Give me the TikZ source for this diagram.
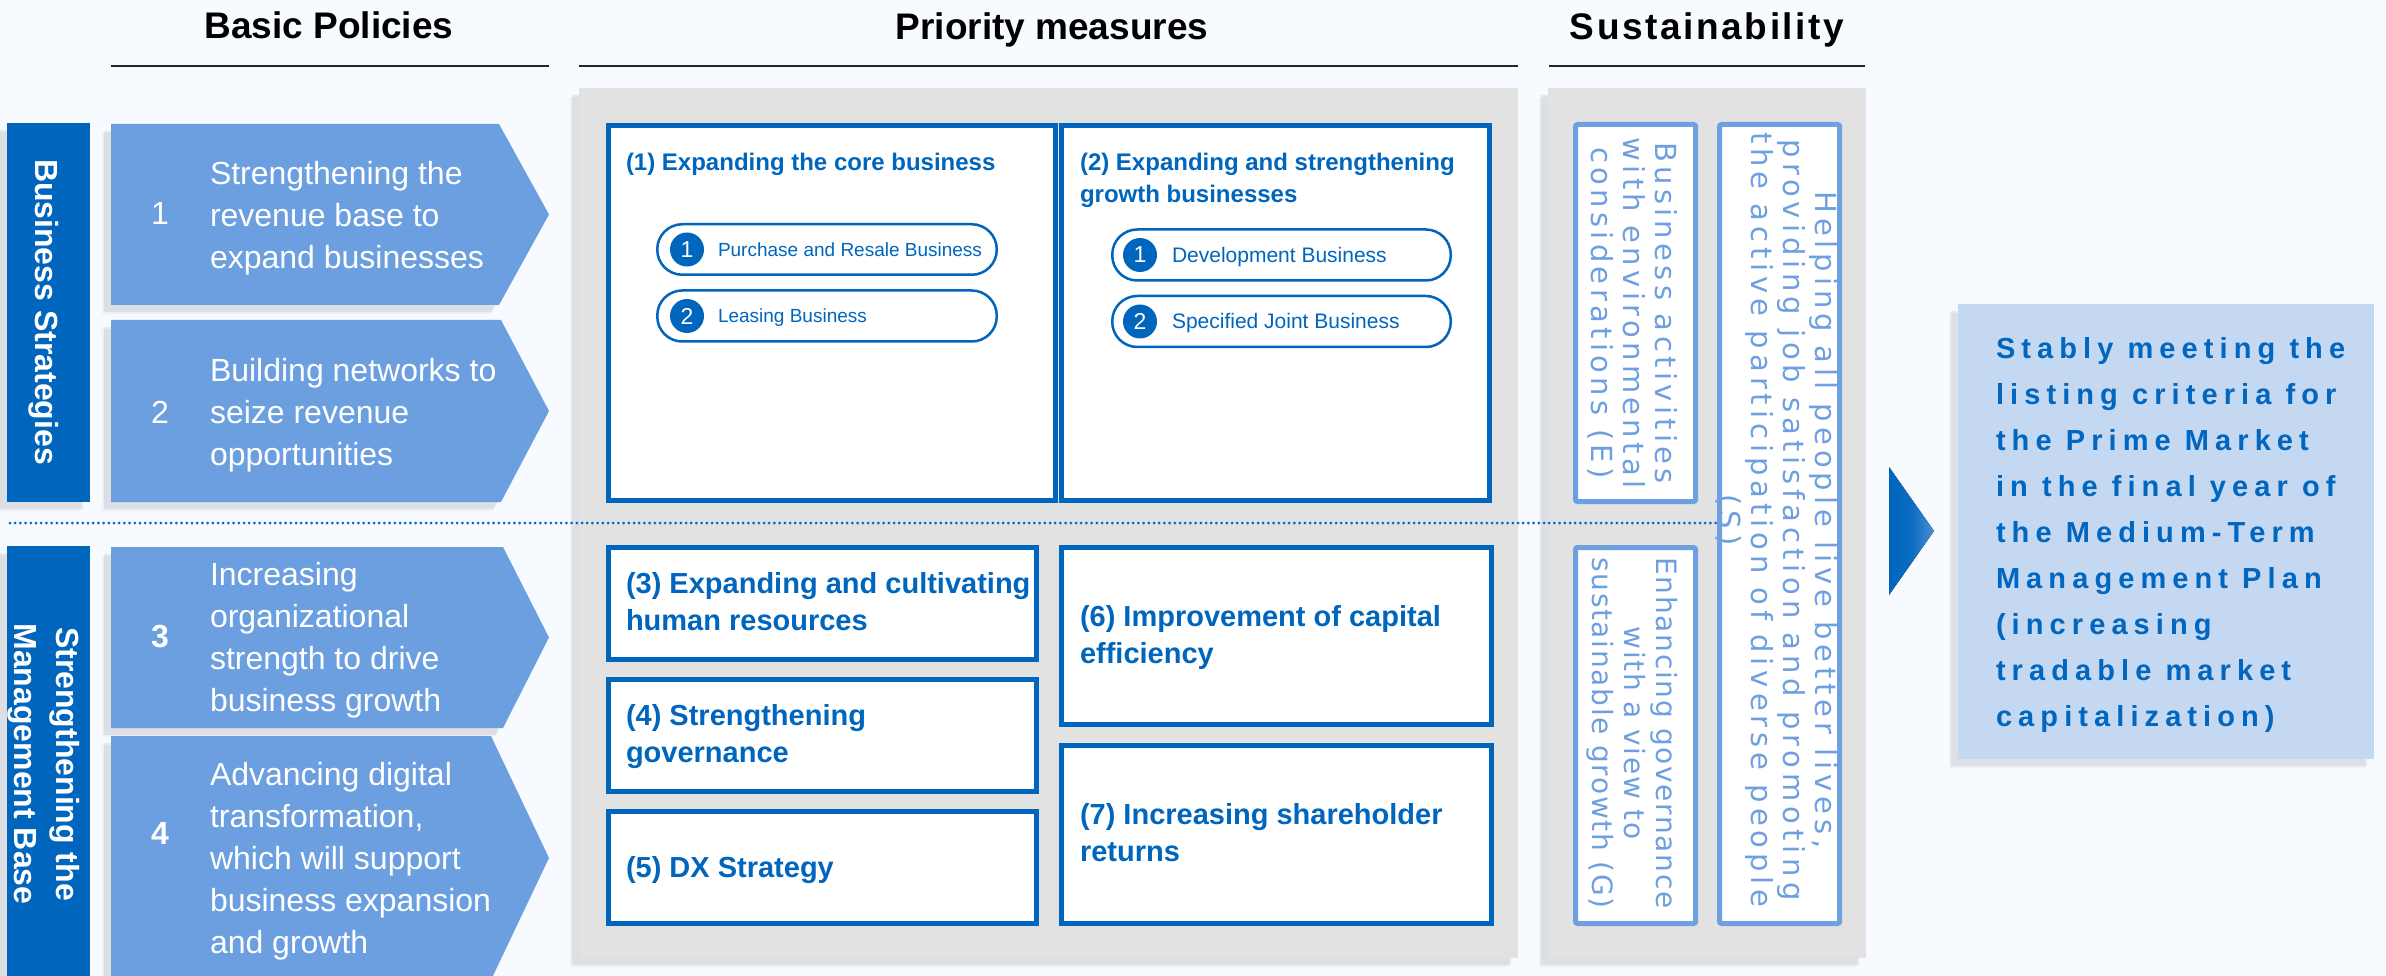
\documentclass[tikz,border=0pt]{standalone}
\usepackage{fontspec}
\setmainfont{Liberation Sans}
\newfontfamily\sustfontE[LetterSpace=15]{DejaVu Sans}
\newfontfamily\sustfontS[LetterSpace=17]{DejaVu Sans}
\newfontfamily\sustfontG[LetterSpace=6]{DejaVu Sans}
\newfontfamily\goalfont[LetterSpace=21]{Liberation Sans}
\newfontfamily\spacedhead[LetterSpace=7]{Liberation Sans}

\definecolor{deepblue}{RGB}{0,101,189}
\definecolor{arrowblue}{RGB}{108,159,224}
\definecolor{softblue}{RGB}{110,159,225}
\definecolor{panelgray}{RGB}{226,226,226}
\definecolor{paper}{RGB}{247,251,255}
\definecolor{goalfill}{RGB}{197,216,241}
\definecolor{goaltext}{RGB}{0,102,192}
\definecolor{tipblue}{RGB}{74,143,214}

\begin{document}
\begin{tikzpicture}[x=1pt,y=-1pt,
  every node/.style={inner sep=0pt,outer sep=0pt},
  head/.style={text=black,font=\bfseries\fontsize{37}{44}\selectfont},
  headrule/.style={draw=black!85,line width=2pt},
  shadenear/.style={fill=black,opacity=.07,shift={(-7,7)}},
  shadefar/.style={fill=black,opacity=.04,shift={(-9,9)}},
  panel/.style={fill=panelgray},
  sidebar/.style={fill=deepblue},
  sidetext/.style={text=white,rotate=-90,align=center,font=\bfseries\fontsize{32}{42}\selectfont},
  policy/.style={fill=arrowblue},
  policytext/.style={text=white,anchor=west,align=left,font=\fontsize{32}{42}\selectfont},
  policynum/.style={text=white,font=\fontsize{32}{42}\selectfont},
  measure/.style={draw=deepblue,line width=5pt,fill=white},
  measuretitle/.style={text=deepblue,anchor=west,align=left,font=\bfseries\fontsize{29}{37}\selectfont},
  smalltitle/.style={text=deepblue,anchor=west,align=left,font=\bfseries\fontsize{24}{32}\selectfont},
  pill/.style={draw=deepblue,line width=2.5pt,fill=white,rounded corners=25pt},
  numdot/.style={circle,fill=deepblue,minimum size=34pt,text=white,font=\fontsize{23}{23}\selectfont},
  pilltext/.style={text=deepblue,anchor=west},
  sustbox/.style={draw=softblue,line width=5pt,fill=white,rounded corners=2pt},
  susttext/.style={text=softblue,rotate=-90,align=center},
  goaltextstyle/.style={text=goaltext,anchor=west,align=left,font=\goalfont\bfseries\fontsize{29}{45.9}\selectfont}
]
\useasboundingbox (0,0) rectangle (2386,976);
\fill[paper] (0,0) rectangle (2386,976);

\begin{scope}
\clip (0,0) rectangle (2386,976);

% column headings and their rules
\node[head] (hdBasic) at (329,25) {Basic Policies};
\node[head] (hdPriority) at (1052,29.5) {Priority measures};
\node[head,font=\spacedhead\bfseries\fontsize{37}{44}\selectfont] (hdSust) at (1707,29.5) {Sustainability};
\draw[headrule] (111,66) -- (549,66);
\draw[headrule] (579,66) -- (1518,66);
\draw[headrule] (1549,66) -- (1865,66);

% soft shadows
\foreach \sty in {shadefar,shadenear}{
  \fill[\sty] (7,123) rectangle (90,502);
  \fill[\sty] (7,546) rectangle (90,990);
  \fill[\sty] (579,88) rectangle (1518,958);
  \fill[\sty] (1548,88) rectangle (1866,958);
  \fill[\sty] (1958,304) rectangle (2374,759);
  \foreach \t/\b/\n in {124/305/499,320/502/501,547/728/503,736/980/491}{
    \pgfmathsetmacro\m{(\t+\b)/2}
    \fill[\sty] (111,\t) -- (\n,\t) -- (549,\m) -- (\n,\b) -- (111,\b) -- cycle;
  }
}

% side bars
\fill[sidebar] (7,123) rectangle (90,502);
\fill[sidebar] (7,546) rectangle (90,990);
\node[sidetext] (sideBiz) at (44,312) {Business Strategies};
\node[sidetext] (sideMgmt) at (44,764) {Strengthening the\\Management Base};

% basic policy arrows
\foreach \t/\b/\n in {124/305/499,320/502/501,547/728/503,736/980/491}{
  \pgfmathsetmacro\m{(\t+\b)/2}
  \fill[policy] (111,\t) -- (\n,\t) -- (549,\m) -- (\n,\b) -- (111,\b) -- cycle;
}
\node[policynum] (num1) at (160,213) {1};
\node[policynum] (num2) at (160,412) {2};
\node[policynum,font=\bfseries\fontsize{32}{42}\selectfont] (num3) at (160,637) {3};
\node[policynum,font=\bfseries\fontsize{32}{42}\selectfont] (num4) at (160,833) {4};
\node[policytext] (pol1) at (210,218) {Strengthening the\\revenue base to\\expand businesses};
\node[policytext] (pol2) at (210,415) {Building networks to\\seize revenue\\opportunities};
\node[policytext] (pol3) at (210,640) {Increasing\\organizational\\strength to drive\\business growth};
\node[policytext] (pol4) at (210,861) {Advancing digital\\transformation,\\which will support\\business expansion\\and growth};

% grey panels
\fill[panel] (579,88) rectangle (1518,958);
\fill[panel] (1548,88) rectangle (1866,958);

% dotted divider between the two strategy groups
\coordinate (divL) at (10,523);
\coordinate (divR) at (1717,523);
\draw[deepblue,line width=3pt,line cap=round,dash pattern=on 0pt off 5.2pt] (divL) -- (divR);

% priority measures
\draw[measure] (608.5,125.5) rectangle (1055.5,500.5);
\draw[measure] (1061,125.5) rectangle (1489.5,500.5);
\draw[measure] (608.5,547.5) rectangle (1036.5,659.5);
\draw[measure] (608.5,679.5) rectangle (1036.5,791.5);
\draw[measure] (608.5,811.5) rectangle (1036.5,923.5);
\draw[measure] (1061.5,547.5) rectangle (1491.5,724.5);
\draw[measure] (1061.5,745.5) rectangle (1491.5,923.5);

\node[smalltitle] (pm1) at (626,164) {(1) Expanding the core business};
\node[smalltitle] (pm2) at (1080,180) {(2) Expanding and strengthening\\growth businesses};

\node[pill,minimum width=339.5pt,minimum height=50.5pt] (pillA1) at (827,249.5) {};
\node[pill,minimum width=339.5pt,minimum height=51pt] (pillA2) at (827,316) {};
\node[pill,minimum width=338.5pt,minimum height=51pt] (pillB1) at (1281.5,255) {};
\node[pill,minimum width=338.5pt,minimum height=51pt] (pillB2) at (1281.5,321.5) {};
\node[numdot] (dotA1) at (687,249.5) {1};
\node[numdot] (dotA2) at (687,316) {2};
\node[numdot] (dotB1) at (1140,255) {1};
\node[numdot] (dotB2) at (1140,321.5) {2};
\node[pilltext,font=\fontsize{19}{22}\selectfont] (txtA1) at (718,249.5) {Purchase and Resale Business};
\node[pilltext,font=\fontsize{19}{22}\selectfont] (txtA2) at (718,318) {Leasing Business};
\node[pilltext,font=\fontsize{21}{24}\selectfont] (txtB1) at (1172,257.5) {Development Business};
\node[pilltext,font=\fontsize{21}{24}\selectfont] (txtB2) at (1172,323) {Specified Joint Business};

\node[measuretitle] (pm3) at (626,602) {(3) Expanding and cultivating\\human resources};
\node[measuretitle] (pm4) at (626,737) {(4) Strengthening\\governance};
\node[measuretitle] (pm5) at (626,870) {(5) DX Strategy};
\node[measuretitle] (pm6) at (1080,637) {(6) Improvement of capital\\efficiency};
\node[measuretitle] (pm7) at (1080,833) {(7) Increasing shareholder\\returns};

% sustainability themes
\draw[sustbox] (1575.5,124.5) rectangle (1695.5,501.5);
\draw[sustbox] (1719.5,124.5) rectangle (1839.5,923.5);
\draw[sustbox] (1575.5,547.5) rectangle (1695.5,923.5);
\node[susttext,font=\sustfontE\fontsize{29}{32}\selectfont] (sustE) at (1632.5,313) {Business activities\\with environmental\\considerations (E)};
\node[susttext,font=\sustfontS\fontsize{29}{32}\selectfont] (sustS) at (1776.5,520) {Helping all people live better lives,\\providing job satisfaction and promoting\\the active participation of diverse people\\(S)};
\node[susttext,font=\sustfontG\fontsize{28}{32}\selectfont] (sustG) at (1632.5,733) {Enhancing governance\\with a view to\\sustainable growth (G)};

% pointer towards the goal
\fill[left color=deepblue,right color=tipblue,middle color=deepblue!85!tipblue] (1889,467) -- (1934,531) -- (1889,595) -- cycle;

% goal
\fill[goalfill] (1958,304) rectangle (2374,759);
\node[goaltextstyle] (goal) at (1996,535) {Stably meeting the\\listing criteria for\\the Prime Market\\in the final year of\\the Medium-Term\\Management Plan\\(increasing\\tradable market\\capitalization)};
\end{scope}
\end{tikzpicture}
\end{document}
